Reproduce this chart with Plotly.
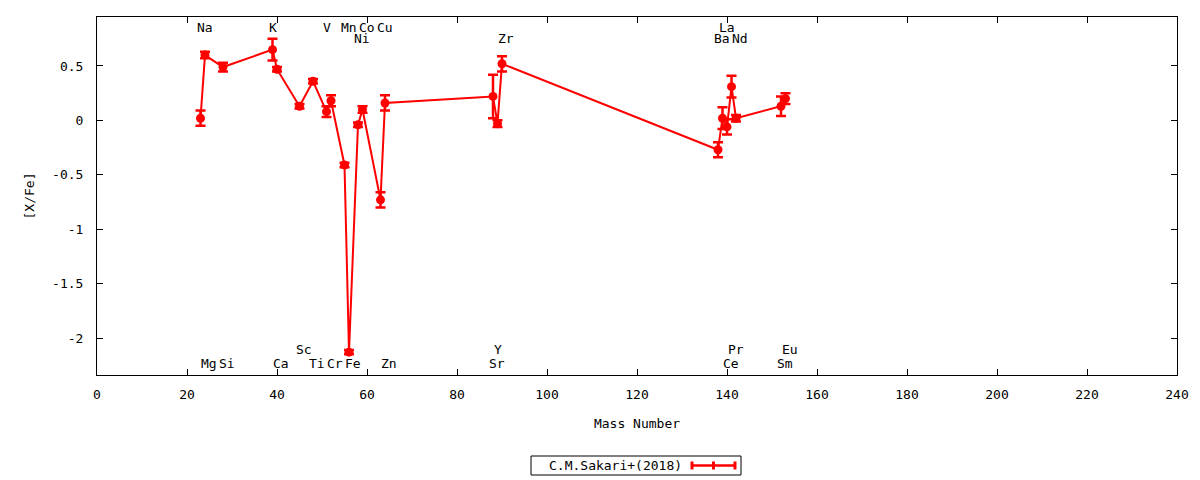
import plotly.graph_objects as go

# ---- data ----
elements = ["Na", "Mg", "Si", "K", "Ca", "Sc", "Ti", "V", "Cr", "Mn", "Fe", "Ni", "Co",
            "Cu", "Zn", "Sr", "Y", "Zr", "Ba", "La", "Ce", "Pr", "Nd", "Sm", "Eu"]
mass_number = [23, 24, 28, 39, 40, 45, 48, 51, 52, 55, 56, 58, 59,
               63, 64, 88, 89, 90, 138, 139, 140, 141, 142, 152, 153]
x_fe = [0.02, 0.60, 0.49, 0.65, 0.47, 0.13, 0.36, 0.08, 0.18, -0.41, -2.13, -0.04, 0.10,
        -0.73, 0.16, 0.22, -0.03, 0.52, -0.27, 0.02, -0.06, 0.31, 0.02, 0.13, 0.20]
x_fe_err = [0.07, 0.03, 0.04, 0.10, 0.02, 0.02, 0.02, 0.05, 0.05, 0.02, 0.02, 0.02, 0.03,
            0.07, 0.07, 0.20, 0.03, 0.07, 0.07, 0.10, 0.07, 0.10, 0.03, 0.09, 0.05]
series_name = "C.M.Sakari+(2018)"
x_ticks = [0, 20, 40, 60, 80, 100, 120, 140, 160, 180, 200, 220, 240]
y_ticks = [-2, -1.5, -1, -0.5, 0, 0.5]
y_tick_labels = ["-2", "-1.5", "-1", "-0.5", "0", "0.5"]

# label rows (layout only)
label_row = {"Na": "t1", "K": "t1", "V": "t1", "Mn": "t1", "Co": "t1", "Cu": "t1", "La": "t1",
             "Ni": "t2", "Zr": "t2", "Ba": "t2", "Nd": "t2",
             "Sc": "b1", "Y": "b1", "Pr": "b1", "Eu": "b1",
             "Mg": "b2", "Si": "b2", "Ca": "b2", "Ti": "b2", "Cr": "b2", "Fe": "b2",
             "Zn": "b2", "Sr": "b2", "Ce": "b2", "Sm": "b2"}
row_y = {"t1": 0.972, "t2": 0.941, "b1": 0.0726, "b2": 0.0335}

FONT = "DejaVu Sans Mono"
RED = "#ff0000"

fig = go.Figure()
fig.add_trace(go.Scatter(
    x=mass_number, y=x_fe, mode="lines+markers", name=series_name,
    line=dict(color=RED, width=2),
    marker=dict(symbol="circle", size=9, color=RED),
    error_y=dict(type="data", array=x_fe_err, visible=True, color=RED, thickness=2.5, width=5),
    showlegend=False,
))

annotations = []
for el, m in zip(elements, mass_number):
    annotations.append(dict(
        x=m, xref="x", y=row_y[label_row[el]], yref="paper", text=el, showarrow=False,
        xanchor="left", yanchor="middle", xshift=-6,
        font=dict(family=FONT, size=13, color="black"),
    ))

# custom legend (text then sample); page pixel -> paper coords
def px_x(p):
    return (p - 97) / 1080.0

def px_y(p):
    return (375 - p) / 358.0

annotations.append(dict(
    x=px_x(615), y=px_y(465.5), xref="paper", yref="paper", text=series_name,
    showarrow=False, xanchor="center", yanchor="middle",
    font=dict(family=FONT, size=13, color="black"),
))

shapes = [
    dict(type="rect", xref="paper", yref="paper", x0=px_x(531), x1=px_x(741),
         y0=px_y(456), y1=px_y(475), line=dict(color="black", width=1)),
    dict(type="line", xref="paper", yref="paper", x0=px_x(692), x1=px_x(735),
         y0=px_y(465.5), y1=px_y(465.5), line=dict(color=RED, width=2.5)),
]
for cx in (692, 713.5, 735):
    shapes.append(dict(type="line", xref="paper", yref="paper", x0=px_x(cx), x1=px_x(cx),
                       y0=px_y(461.5), y1=px_y(469.5), line=dict(color=RED, width=3)))

axis_common = dict(
    showline=True, linecolor="black", linewidth=1, mirror="ticks",
    ticks="inside", ticklen=6, tickcolor="black", tickwidth=1,
    showgrid=False, zeroline=False, automargin=False,
    tickfont=dict(family=FONT, size=13, color="black"),
)

fig.update_layout(
    width=1184, height=472, autosize=False,
    margin=dict(l=89, r=15, t=9, b=105),
    plot_bgcolor="white", paper_bgcolor="white",
    font=dict(family=FONT, size=13, color="black"),
    xaxis=dict(range=[0, 240], tickvals=x_ticks, ticktext=[str(v) for v in x_ticks],
               title=dict(text="Mass Number", standoff=18, font=dict(family=FONT, size=13)),
               ticklabelstandoff=7, **axis_common),
    yaxis=dict(range=[-2.34, 0.95], tickvals=y_ticks, ticktext=y_tick_labels,
               title=dict(text="[X/Fe]", standoff=14, font=dict(family=FONT, size=13)),
               ticklabelstandoff=10, **axis_common),
    annotations=annotations,
    shapes=shapes,
)

fig.write_html("out.html")
